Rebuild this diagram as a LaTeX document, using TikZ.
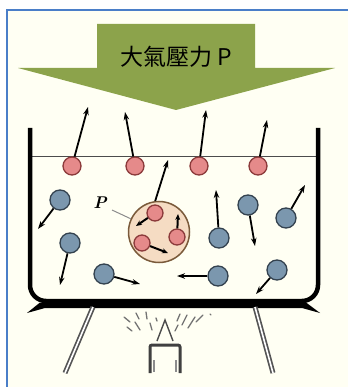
\documentclass[tikz,border=0pt]{standalone}
\usepackage{fontspec}
\newfontfamily\cjk{Noto Sans CJK TC}
\usetikzlibrary{arrows.meta}
\definecolor{framecol}{HTML}{4A7EC8}
\definecolor{paper}{HTML}{FFFFF3}
\definecolor{bannergreen}{HTML}{8CA34B}
\definecolor{hotfill}{HTML}{E58A8A}
\definecolor{hotline}{HTML}{8B3A3A}
\definecolor{coldfill}{HTML}{7B97AE}
\definecolor{coldline}{HTML}{34424F}
\definecolor{bubfill}{HTML}{F5DCC3}
\definecolor{bubline}{HTML}{7A5A3A}
\definecolor{legcol}{HTML}{555555}
\tikzset{
  hot/.style={circle,draw=hotline,fill=hotfill,line width=1.3pt,minimum size=18pt,inner sep=0pt},
  hotsmall/.style={hot,minimum size=16pt},
  cold/.style={circle,draw=coldline,fill=coldfill,line width=1.3pt,minimum size=20pt,inner sep=0pt},
  vec/.style={line width=1.8pt,-{Stealth[length=8pt,width=5.5pt]}},
  shortvec/.style={line width=2pt,-{Stealth[length=6pt,width=5pt]}},
  spark/.style={line width=1.3pt,color=black!55,line cap=round},
}
\begin{document}
\begin{tikzpicture}[x=1pt,y=-1pt]
\useasboundingbox (0,0) rectangle (347,387);
% outer frame and paper
\fill[white] (0,0) rectangle (347,387);
\filldraw[draw=framecol,fill=paper,line width=2pt] (7,10) rectangle (354,394);

% downward pressure arrow with its caption
\fill[bannergreen] (97,24) -- (255,24) -- (255,68) -- (335,68) -- (176,110)
  -- (18,68) -- (97,68) -- cycle;
\node[font=\cjk\fontsize{23}{23}\selectfont] (caption) at (176,57) {大氣壓力 P};

% water surface
\coordinate (wl) at (30,156);
\coordinate (wr) at (318,156);
\draw[line width=0.8pt,black!70] (wl) -- (wr);

% pot walls and bottom plate
\draw[line width=4.5pt,rounded corners=16pt] (30,128) -- (30,301) -- (318,301) -- (318,128);
\fill (27,313) -- (40,302.5) -- (306,302.5) -- (320,313) -- (302,308) -- (45,308) -- cycle;

% stand legs
\coordinate (lla) at (93,307);
\coordinate (llb) at (65,373);
\coordinate (rla) at (255,307);
\coordinate (rlb) at (273,373);
\draw[legcol,line width=5pt] (lla) -- (llb);
\draw[white,line width=1.6pt] (lla) -- (llb);
\draw[legcol,line width=5pt] (rla) -- (rlb);
\draw[white,line width=1.6pt] (rla) -- (rlb);

% burner and flame
\draw[black!75,line width=3pt,rounded corners=2pt] (150,373) -- (150,345) -- (180,345) -- (180,373);
\draw[black!45,line width=2pt] (154,360) -- (154,372) (176,360) -- (176,372);
\draw[black!70,line width=1.4pt] (157,341) -- (165,320) -- (173,341);
\draw[spark] (124,317) -- (130,322);
\draw[spark] (127,327) -- (132,331);
\draw[spark] (136,313) -- (139,319);
\draw[spark] (135,322) -- (140,330);
\draw[spark] (146,312) -- (147,319);
\draw[spark] (150,323) -- (152,330);
\draw[spark] (156,318) -- (157,321);
\draw[spark] (180,314) -- (177,321);
\draw[spark] (187,315) -- (182,325);
\draw[spark] (195,317) -- (188,328);
\draw[spark] (203,315) -- (196,322);
\draw[spark] (178,325) -- (175,331);
\draw[spark] (210,314) -- (211,315);

% molecules at the surface
\node[hot] (r1) at (72,166) {};
\node[hot] (r2) at (135,166) {};
\node[hot] (r3) at (199,166) {};
\node[hot] (r4) at (258,166) {};
\coordinate (t1) at (88,107);
\coordinate (t2) at (125,112);
\coordinate (t3) at (206,110);
\coordinate (t4) at (267,120);
\draw[vec] (r1) -- (t1);
\draw[vec] (r2) -- (t2);
\draw[vec] (r3) -- (t3);
\draw[vec] (r4) -- (t4);

% vapour bubble
\node[circle,draw=bubline,fill=bubfill,line width=1.5pt,minimum size=61pt,inner sep=0pt]
  (bub) at (159,232) {};
\coordinate (bt) at (168,160);
\draw[vec] (bub.97) -- (bt);
\node[hotsmall] (m1) at (155,213) {};
\node[hotsmall] (m2) at (177,237) {};
\node[hotsmall] (m3) at (142,243) {};
\coordinate (u1) at (136,226);
\coordinate (u2) at (178,214);
\coordinate (u3) at (168,253);
\draw[shortvec] (m1) -- (u1);
\draw[shortvec] (m2) -- (u2);
\draw[shortvec] (m3) -- (u3);
\node[font=\fontsize{17}{17}\selectfont\bfseries\itshape] (plab) at (100,203) {P};
\draw[black!45,line width=1pt] (112,210) -- (bub);

% molecules in the liquid
\node[cold] (b1) at (60,200) {};
\node[cold] (b2) at (70,243) {};
\node[cold] (b3) at (219,238) {};
\node[cold] (b4) at (248,205) {};
\node[cold] (b5) at (286,218) {};
\node[cold] (b6) at (104,274) {};
\node[cold] (b7) at (218,276) {};
\node[cold] (b8) at (277,270) {};
\coordinate (e1) at (38,229);
\coordinate (e2) at (60,285);
\coordinate (e3) at (216,190);
\coordinate (e4) at (255,246);
\coordinate (e5) at (305,185);
\coordinate (e6) at (140,284);
\coordinate (e7) at (177,276);
\coordinate (e8) at (256,294);
\draw[vec] (b1) -- (e1);
\draw[vec] (b2) -- (e2);
\draw[vec] (b3) -- (e3);
\draw[vec] (b4) -- (e4);
\draw[vec] (b5) -- (e5);
\draw[vec] (b6) -- (e6);
\draw[vec] (b7) -- (e7);
\draw[vec] (b8) -- (e8);
\end{tikzpicture}
\end{document}
